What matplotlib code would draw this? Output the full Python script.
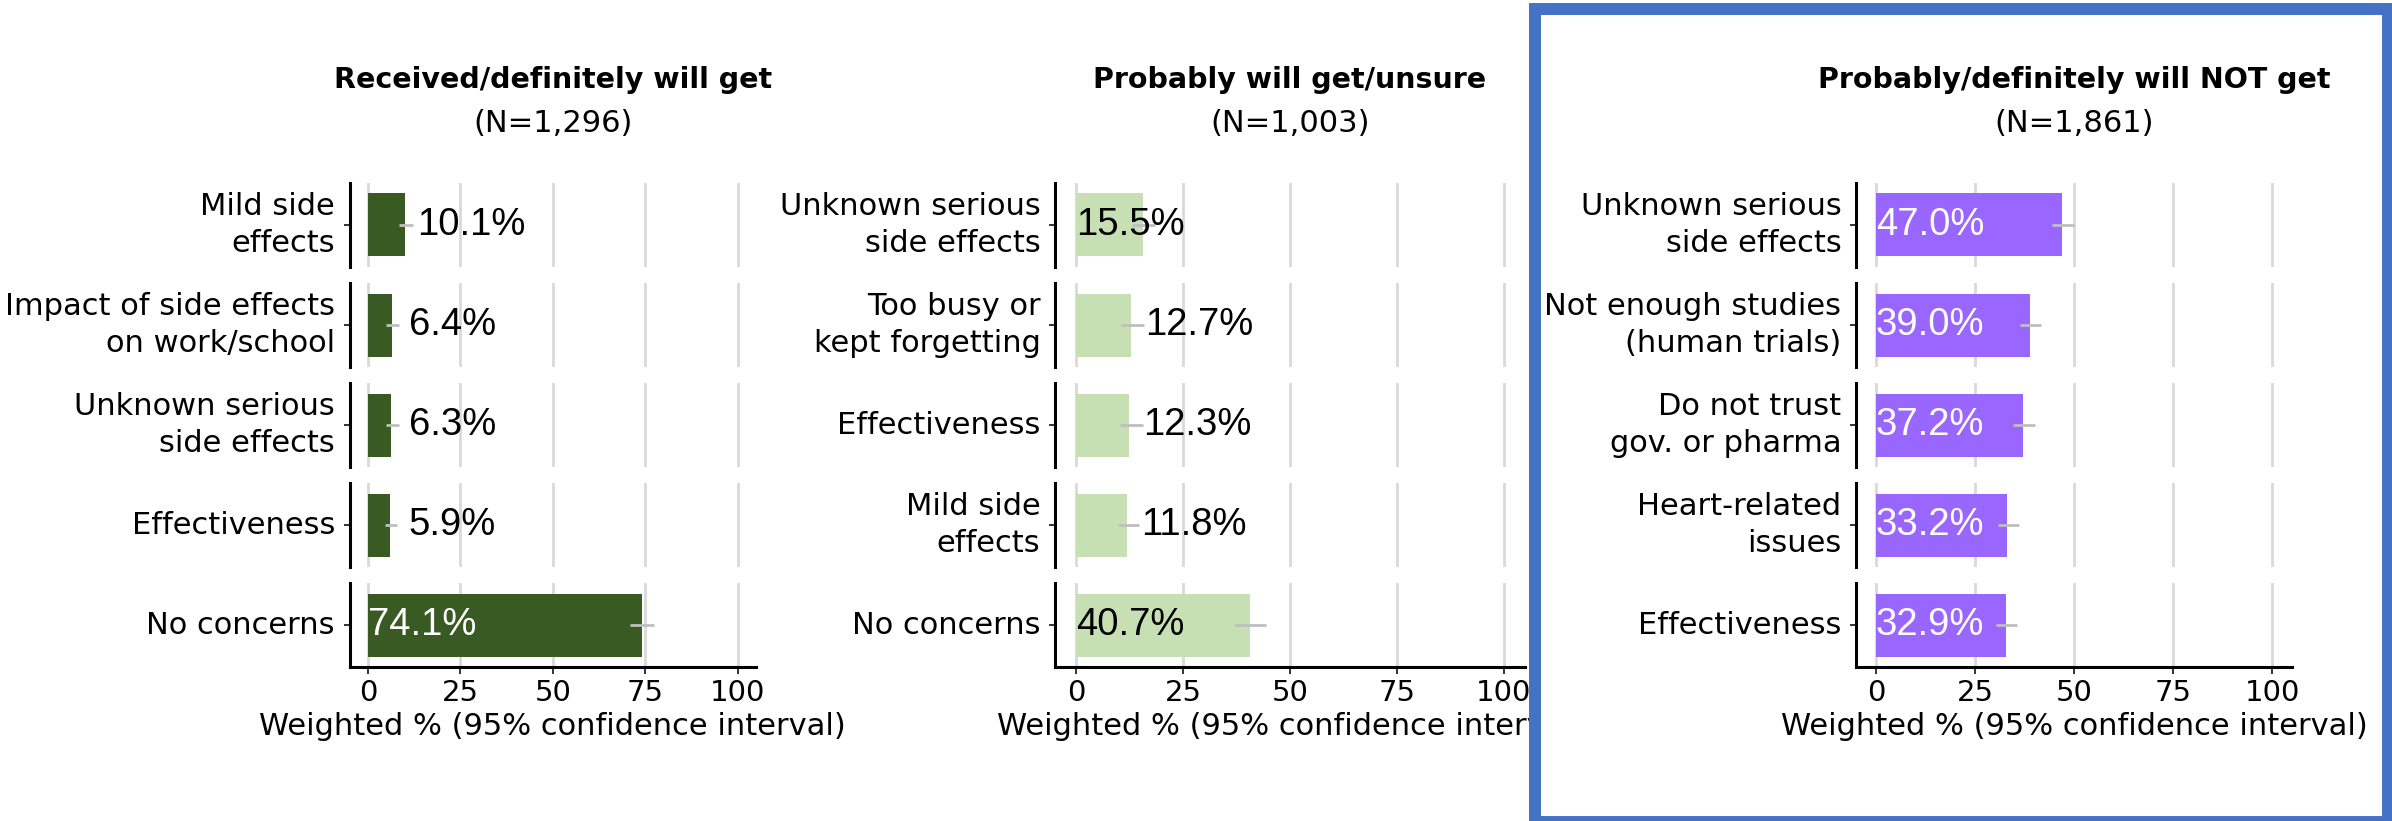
import matplotlib
matplotlib.use("Agg")
import matplotlib.pyplot as plt
from matplotlib.patches import Rectangle

plt.rcParams['font.family'] = ['DejaVu Sans']

# panel titles
titles = ["Received/definitely will get", "Probably will get/unsure", "Probably/definitely will NOT get"]
sample_sizes = ["(N=1,296)", "(N=1,003)", "(N=1,861)"]

# received / definitely will get
received_labels = ["Mild side\neffects", "Impact of side effects\non work/school",
                   "Unknown serious\nside effects", "Effectiveness", "No concerns"]
received_pct = [10.1, 6.4, 6.3, 5.9, 74.1]
received_low = [8.4, 5.0, 4.9, 4.5, 70.8]
received_high = [12.2, 8.3, 8.4, 7.9, 77.4]

# probably will get / unsure
unsure_labels = ["Unknown serious\nside effects", "Too busy or\nkept forgetting",
                 "Effectiveness", "Mild side\neffects", "No concerns"]
unsure_pct = [15.5, 12.7, 12.3, 11.8, 40.7]
unsure_low = [13.0, 10.5, 10.1, 9.7, 37.2]
unsure_high = [18.5, 15.8, 15.6, 14.6, 44.3]

# probably / definitely will NOT get
not_labels = ["Unknown serious\nside effects", "Not enough studies\n(human trials)",
              "Do not trust\ngov. or pharma", "Heart-related\nissues", "Effectiveness"]
not_pct = [47.0, 39.0, 37.2, 33.2, 32.9]
not_low = [44.4, 36.5, 34.6, 30.8, 30.4]
not_high = [49.9, 41.8, 40.1, 36.1, 35.5]

W, H = 2392, 821
fig = plt.figure(figsize=(W / 100, H / 100), dpi=100)

# blue highlight box around the last panel
box = Rectangle((1535 / W, 1 - 822 / H), (2388 - 1535) / W, (822 - 9.5) / H,
                transform=fig.transFigure, facecolor='white', edgecolor='#4472c4',
                linewidth=8.6, zorder=1)
fig.patches.append(box)


def draw_panel(k, left, right, labels, pct, low, high, color, inside_color, zorder):
    for i in range(len(labels)):
        top = 183 + 100 * i
        ax = fig.add_axes([left / W, 1 - (top + 84) / H, (right - left) / W, 84 / H])
        ax.set_zorder(zorder)
        ax.set_facecolor('none')
        ax.barh(0, pct[i], height=0.9, color=color, zorder=2)
        ax.hlines(0, low[i], high[i], color='#bfbfbf', lw=2, zorder=3)
        if pct[i] >= 15:
            ax.text(0, 0, f"{pct[i]:.1f}%", ha='left', va='center', color=inside_color,
                    fontsize=27.5, family='Liberation Sans', zorder=4)
        else:
            ax.text(max(pct[i] + 3.3, 11), 0, f"{pct[i]:.1f}%", ha='left', va='center',
                    color='black', fontsize=27.5, family='Liberation Sans', zorder=4)
        ax.set_xlim(-5, 105)
        ax.set_ylim(-0.6, 0.6)
        ax.set_xticks([0, 25, 50, 75, 100])
        ax.grid(axis='x', color='#d9d9d9', lw=2)
        ax.set_axisbelow(True)
        ax.set_yticks([0])
        ax.set_yticklabels([labels[i]], fontsize=22, linespacing=1.37, va='center')
        ax.tick_params(axis='y', length=4, width=1.4, color='#333333', pad=6.5)
        for s in ['top', 'right']:
            ax.spines[s].set_visible(False)
        ax.spines['left'].set_linewidth(2.2)
        ax.spines['bottom'].set_linewidth(2.2)
        if i < len(labels) - 1:
            ax.spines['bottom'].set_visible(False)
            ax.tick_params(axis='x', length=0, labelbottom=False)
        else:
            ax.tick_params(axis='x', length=5, width=1.4, color='#333333', labelsize=21, pad=3.5)
            ax.set_xlabel("Weighted % (95% confidence interval)", fontsize=22, labelpad=4)
    cx = (left + right) / 2 / W
    fig.text(cx, 1 - 88 / H, titles[k], ha='center', va='baseline', fontsize=20.5,
             fontweight='bold', zorder=5)
    fig.text(cx, 1 - 132 / H, sample_sizes[k], ha='center', va='baseline', fontsize=22, zorder=5)


draw_panel(0, 349.5, 756, received_labels, received_pct, received_low, received_high,
           '#3a5a24', 'white', 0)
draw_panel(1, 1055, 1525, unsure_labels, unsure_pct, unsure_low, unsure_high,
           '#c6e0b4', 'black', 0)
draw_panel(2, 1856, 2292, not_labels, not_pct, not_low, not_high,
           '#9966ff', 'white', 2)

fig.savefig("out.png", dpi=100)
